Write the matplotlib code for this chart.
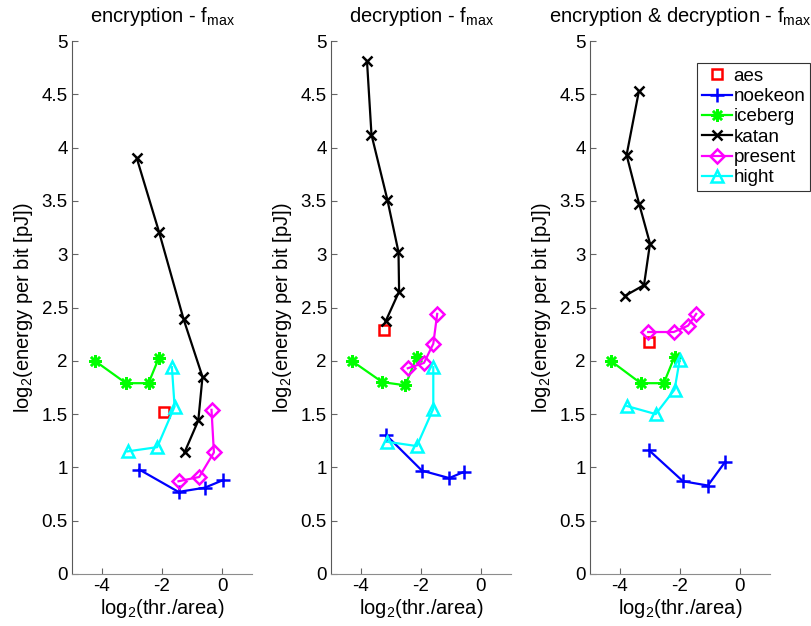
import matplotlib
matplotlib.use("Agg")
import matplotlib.pyplot as plt

plt.rcParams['font.family'] = ['Liberation Sans', 'DejaVu Sans']
plt.rcParams['mathtext.default'] = 'regular'

# valores: (log2 thr/area, log2 energia por bit)
titulos = ["encryption - f$_{max}$", "decryption - f$_{max}$",
           "encryption & decryption - f$_{max}$"]
nombres = ["aes", "noekeon", "iceberg", "katan", "present", "hight"]

# encryption
enc_aes_x, enc_aes_y = [-1.94], [1.52]
enc_noe_x = [-2.76, -1.45, -0.57, 0.03]
enc_noe_y = [0.98, 0.77, 0.81, 0.88]
enc_ice_x = [-4.24, -3.20, -2.45, -2.10]
enc_ice_y = [2.00, 1.79, 1.79, 2.03]
enc_kat_x = [-2.84, -2.10, -1.28, -0.65, -0.79, -1.25]
enc_kat_y = [3.90, 3.21, 2.39, 1.85, 1.44, 1.14]
enc_pre_x = [-1.45, -0.76, -0.27, -0.35]
enc_pre_y = [0.87, 0.91, 1.14, 1.54]
enc_hig_x = [-3.15, -2.16, -1.58, -1.67]
enc_hig_y = [1.15, 1.19, 1.57, 1.94]

# decryption
dec_aes_x, dec_aes_y = [-3.23], [2.29]
dec_noe_x = [-3.15, -1.97, -1.06, -0.55]
dec_noe_y = [1.30, 0.97, 0.90, 0.96]
dec_ice_x = [-4.31, -3.29, -2.52, -2.14]
dec_ice_y = [2.00, 1.80, 1.77, 2.04]
dec_kat_x = [-3.80, -3.65, -3.12, -2.75, -2.73, -3.18]
dec_kat_y = [4.81, 4.12, 3.51, 3.02, 2.65, 2.37]
dec_pre_x = [-2.44, -1.90, -1.59, -1.46]
dec_pre_y = [1.93, 1.98, 2.16, 2.44]
dec_hig_x = [-3.12, -2.14, -1.59, -1.59]
dec_hig_y = [1.24, 1.20, 1.55, 1.94]

# encryption & decryption
ed_aes_x, ed_aes_y = [-3.04], [2.18]
ed_noe_x = [-3.03, -1.90, -1.07, -0.50]
ed_noe_y = [1.16, 0.87, 0.83, 1.05]
ed_ice_x = [-4.31, -3.31, -2.54, -2.18]
ed_ice_y = [2.00, 1.79, 1.79, 2.04]
ed_kat_x = [-3.37, -3.78, -3.36, -3.00, -3.20, -3.83]
ed_kat_y = [4.53, 3.93, 3.47, 3.10, 2.71, 2.61]
ed_pre_x = [-3.06, -2.21, -1.73, -1.46]
ed_pre_y = [2.27, 2.27, 2.33, 2.44]
ed_hig_x = [-3.76, -2.81, -2.18, -2.01]
ed_hig_y = [1.575, 1.50, 1.73, 2.01]

datos = [
    [(enc_aes_x, enc_aes_y), (enc_noe_x, enc_noe_y), (enc_ice_x, enc_ice_y),
     (enc_kat_x, enc_kat_y), (enc_pre_x, enc_pre_y), (enc_hig_x, enc_hig_y)],
    [(dec_aes_x, dec_aes_y), (dec_noe_x, dec_noe_y), (dec_ice_x, dec_ice_y),
     (dec_kat_x, dec_kat_y), (dec_pre_x, dec_pre_y), (dec_hig_x, dec_hig_y)],
    [(ed_aes_x, ed_aes_y), (ed_noe_x, ed_noe_y), (ed_ice_x, ed_ice_y),
     (ed_kat_x, ed_kat_y), (ed_pre_x, ed_pre_y), (ed_hig_x, ed_hig_y)],
]

#estilos de cada serie
colores = ["#ff0000", "#0000ff", "#00ff00", "#000000", "#ff00ff", "#00ffff"]
marcas = ["s", "+", (8, 2, 0), "x", "D", "^"]
tamanos = [7, 10, 9, 7, 7, 8]
lineas = ["none", "-", "-", "-", "-", "-"]

fig = plt.figure(figsize=(8.12, 6.26), dpi=100)
lefts = [72 / 812, 331 / 812, 590 / 812]

for k in range(3):
    ax = fig.add_axes([lefts[k], 52 / 626, 180 / 812, 533 / 626])
    for i in range(6):
        xs, ys = datos[k][i]
        ax.plot(xs, ys, linestyle=lineas[i], marker=marcas[i], color=colores[i],
                markerfacecolor="none", markeredgecolor=colores[i],
                markersize=tamanos[i], markeredgewidth=1.8, linewidth=1.6,
                label=nombres[i])
    ax.set_xlim(-5, 1)
    ax.set_ylim(0, 5)
    ax.set_xticks([-4, -2, 0])
    ax.set_xticklabels(["-4", "-2", "0"])
    ax.set_yticks([0, 0.5, 1, 1.5, 2, 2.5, 3, 3.5, 4, 4.5, 5])
    ax.set_yticklabels(["0", "0.5", "1", "1.5", "2", "2.5", "3", "3.5", "4", "4.5", "5"])
    ax.spines["top"].set_visible(False)
    ax.spines["right"].set_visible(False)
    ax.spines["left"].set_color("0.35")
    ax.spines["bottom"].set_color("0.55")
    ax.tick_params(direction="in", length=4, width=0.8, color="0.4",
                   labelsize=13.5, pad=3)
    ax.set_title(titulos[k], fontsize=14.5, pad=14)
    ax.set_xlabel("log$_2$(thr./area)", fontsize=14.5, labelpad=1)
    ax.set_ylabel("log$_2$(energy per bit [pJ])", fontsize=14.5, labelpad=5)
    if k == 2:
        leg = ax.legend(loc="upper left", bbox_to_anchor=(697 / 812, 1 - 63 / 626),
                        bbox_transform=fig.transFigure, fontsize=13.5,
                        fancybox=False, framealpha=1, edgecolor="0.2",
                        borderaxespad=0, borderpad=0.25, handlelength=1.6,
                        handletextpad=0.1, labelspacing=0.17)
        leg.get_frame().set_linewidth(0.8)

plt.savefig("out.png", dpi=100)
